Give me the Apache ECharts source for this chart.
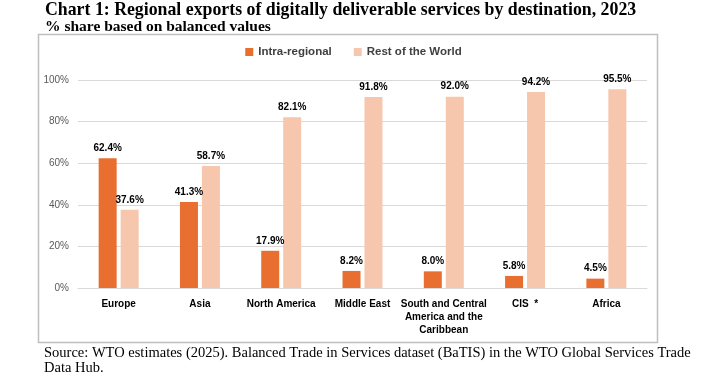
<!DOCTYPE html>
<html>
<head>
<meta charset="utf-8">
<script src="https://cdn.jsdelivr.net/npm/echarts@6/dist/echarts.min.js"></script>
<style>
  html, body { margin: 0; padding: 0; background: #fff; }
  #main { width: 707px; height: 375px; }
</style>
</head>
<body>
<div id="main"></div>
<script>
var regions = ["Europe", "Asia", "North America", "Middle East", "South and Central\nAmerica and the\nCaribbean", "CIS  *", "Africa"];
var intraRegional = [62.4, 41.3, 17.9, 8.2, 8.0, 5.8, 4.5];
var restOfWorld = [37.6, 58.7, 82.1, 91.8, 92.0, 94.2, 95.5];
var yTicks = [0, 20, 40, 60, 80, 100];

var sans = "'Liberation Sans', Arial, sans-serif";
var serif = "'Liberation Serif', 'Times New Roman', serif";

var chart = echarts.init(document.getElementById("main"));
var option = {
  backgroundColor: "#fff",
  animation: false,
  title: [
    { text: "Chart 1: Regional exports of digitally deliverable services by destination, 2023",
      left: 40, top: -4,
      textStyle: { fontFamily: serif, fontWeight: "bold", fontSize: 17.8, color: "#000" } },
    { text: "% share based on balanced values",
      left: 40, top: 14,
      textStyle: { fontFamily: serif, fontWeight: "bold", fontSize: 15.5, color: "#000" } },
    { text: "Source: WTO estimates (2025). Balanced Trade in Services dataset (BaTIS) in the WTO Global Services Trade\nData Hub.",
      left: 39, top: 341,
      textStyle: { fontFamily: serif, fontWeight: "normal", fontSize: 14.5, lineHeight: 15, color: "#000" } }
  ],
  graphic: [{
    type: "rect", shape: { x: 38.5, y: 34.5, width: 619, height: 308 },
    style: { fill: "none", stroke: "#BFBFBF", lineWidth: 1.5 }, silent: true
  }],
  legend: {
    top: 41, left: "center", itemWidth: 8, itemHeight: 8, itemGap: 22,
    icon: "rect",
    textStyle: { fontFamily: sans, fontWeight: "bold", fontSize: 11.5, color: "#404040" },
    data: ["Intra-regional", "Rest of the World"]
  },
  grid: { left: 78, right: 60, top: 80, bottom: 87, containLabel: false },
  xAxis: {
    type: "category", data: regions,
    axisLine: { show: true, lineStyle: { color: "#D9D9D9" } },
    axisTick: { show: false },
    axisLabel: { interval: 0, margin: 10, lineHeight: 13, fontFamily: sans, fontWeight: "bold", fontSize: 10, color: "#000" }
  },
  yAxis: {
    type: "value", min: 0, max: 100, interval: 20,
    axisLine: { show: false }, axisTick: { show: false },
    splitLine: { lineStyle: { color: "#D9D9D9" } },
    axisLabel: { margin: 9, fontFamily: sans, fontSize: 10, color: "#595959",
      formatter: function (v) { return yTicks.indexOf(v) >= 0 ? v + "%" : ""; } }
  },
  series: [
    { name: "Intra-regional", type: "bar", data: intraRegional, barWidth: 18, barGap: "22%",
      itemStyle: { color: "#E86F30" },
      label: { show: true, position: "top", distance: 5, fontFamily: sans, fontWeight: "bold", fontSize: 10, color: "#000",
        formatter: function (p) { return p.value.toFixed(1) + "%"; } } },
    { name: "Rest of the World", type: "bar", data: restOfWorld, barWidth: 18,
      itemStyle: { color: "#F6C6AD" },
      label: { show: true, position: "top", distance: 5, fontFamily: sans, fontWeight: "bold", fontSize: 10, color: "#000",
        formatter: function (p) { return p.value.toFixed(1) + "%"; } } }
  ]
};
chart.setOption(option);
</script>
</body>
</html>
